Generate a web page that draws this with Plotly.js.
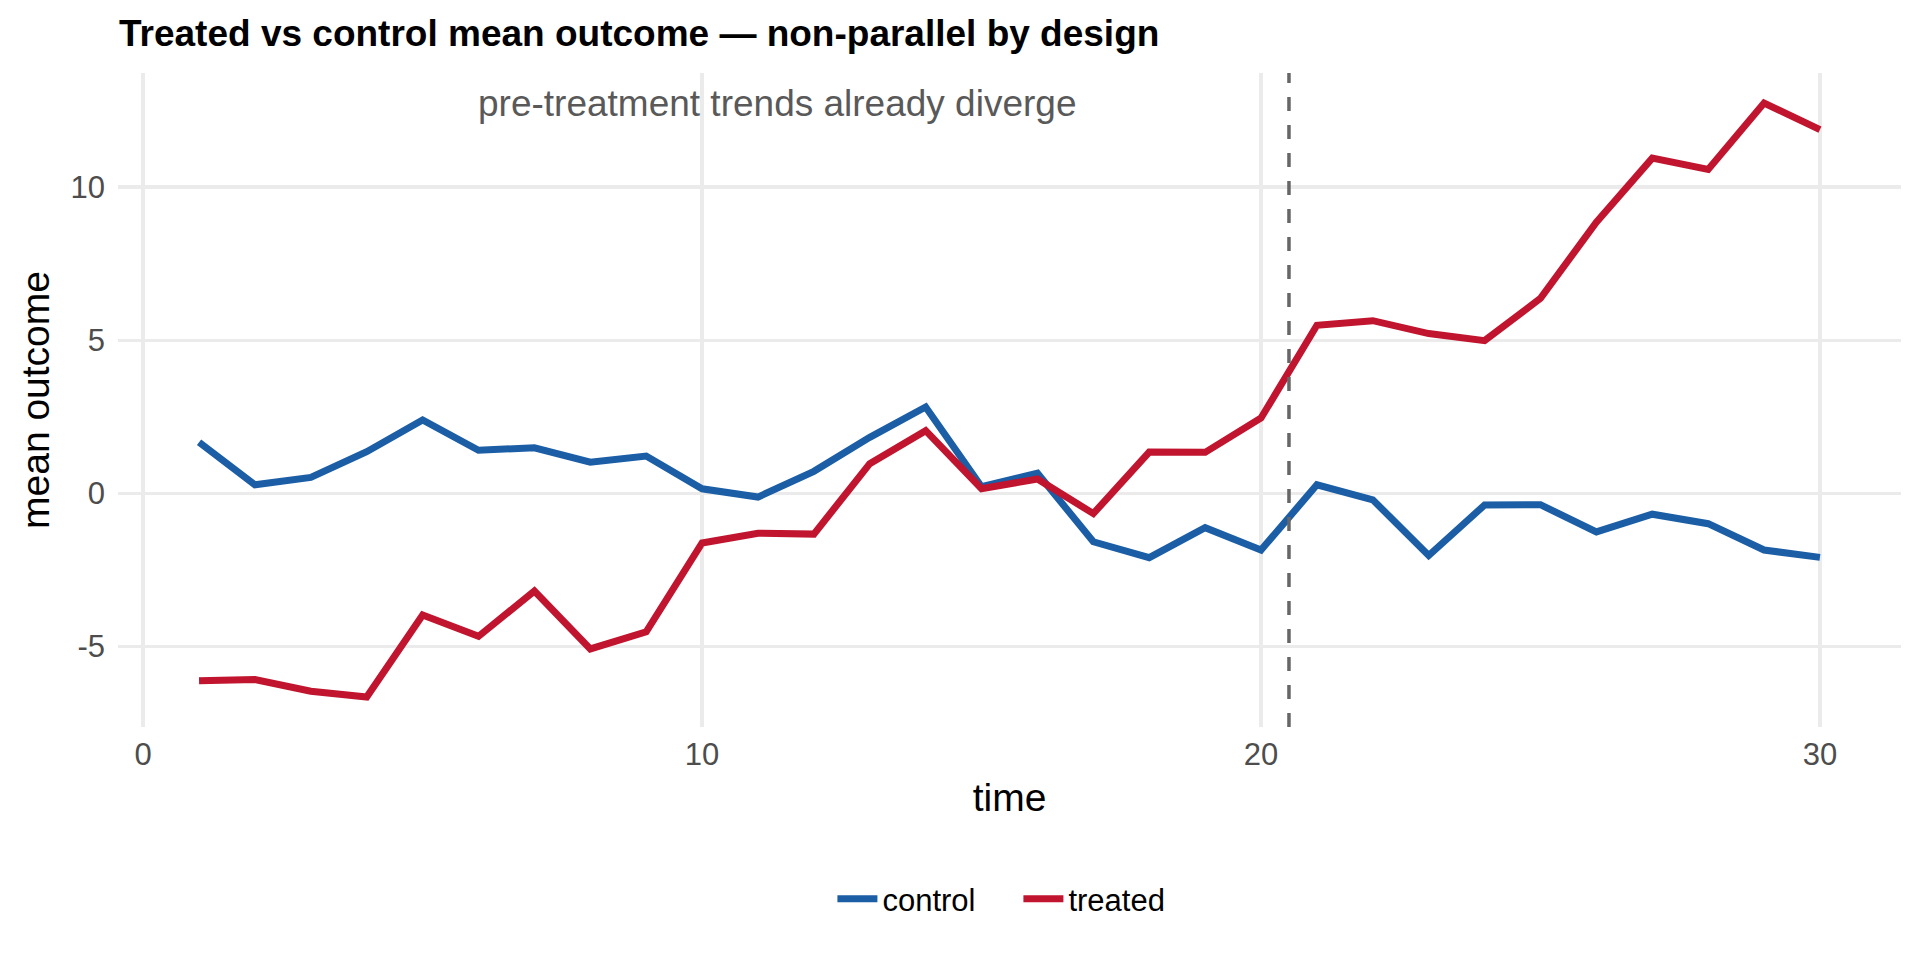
<!DOCTYPE html>
<html>
<head>
<meta charset="utf-8">
<script src="https://cdn.plot.ly/plotly-3.0.1.min.js"></script>
<style>
  html, body { margin: 0; padding: 0; background: #ffffff; }
  #chart { width: 1920px; height: 960px; }
</style>
</head>
<body>
<div id="chart"></div>
<script>
// ---- data ----
const time = [1, 2, 3, 4, 5, 6, 7, 8, 9, 10, 11, 12, 13, 14, 15,
              16, 17, 18, 19, 20, 21, 22, 23, 24, 25, 26, 27, 28, 29, 30];
const control = [1.67, 0.28, 0.52, 1.36, 2.40, 1.41, 1.49, 1.02, 1.22, 0.15,
                 -0.12, 0.72, 1.83, 2.82, 0.22, 0.66, -1.58, -2.10, -1.12, -1.85,
                 0.28, -0.21, -2.03, -0.38, -0.37, -1.26, -0.68, -0.99, -1.85, -2.09];
const treated = [-6.12, -6.08, -6.46, -6.65, -3.97, -4.67, -3.19, -5.08, -4.52, -1.62,
                 -1.30, -1.33, 0.97, 2.05, 0.15, 0.47, -0.66, 1.35, 1.34, 2.46,
                 5.49, 5.64, 5.22, 4.99, 6.37, 8.86, 10.95, 10.58, 12.75, 11.88];
const seriesNames = ["control", "treated"];
const xTicks = [0, 10, 20, 30];
const xTickText = ["0", "10", "20", "30"];
const yTicks = [-5, 0, 5, 10];
const yTickText = ["-5", "0", "5", "10"];
const treatmentStart = 20.5;
const titleText = "Treated vs control mean outcome \u2014 non-parallel by design";
const noteText = "pre-treatment trends already diverge";

const FONT = "Liberation Sans, Arial, Helvetica, sans-serif";
const colors = { control: "#1B5EA6", treated: "#C1142E" };

const traces = [
  { x: time, y: control, name: seriesNames[0], type: "scatter", mode: "lines",
    line: { color: colors.control, width: 7 } },
  { x: time, y: treated, name: seriesNames[1], type: "scatter", mode: "lines",
    line: { color: colors.treated, width: 7 } }
];

const layout = {
  width: 1920, height: 960,
  paper_bgcolor: "#ffffff", plot_bgcolor: "#ffffff",
  margin: { l: 118, r: 19, t: 73, b: 233, pad: 0 },
  font: { family: FONT, color: "#000000" },
  title: {
    text: "<b>" + titleText + "</b>",
    font: { family: FONT, size: 37, color: "#000000" },
    xref: "container", yref: "container",
    x: 119 / 1920, xanchor: "left",
    y: 1 - 33 / 960, yanchor: "middle"
  },
  xaxis: {
    range: [-0.45, 31.45],
    tickmode: "array", tickvals: xTicks, ticktext: xTickText,
    ticks: "", ticklabelstandoff: 6,
    tickfont: { family: FONT, size: 31, color: "#4D4D4D" },
    showgrid: true, gridcolor: "#EBEBEB", gridwidth: 3.5,
    zeroline: false, showline: false,
    title: { text: "time", font: { family: FONT, size: 39, color: "#000000" }, standoff: 12 }
  },
  yaxis: {
    range: [-7.63, 13.73],
    tickmode: "array", tickvals: yTicks, ticktext: yTickText,
    ticks: "", ticklabelstandoff: 12,
    tickfont: { family: FONT, size: 31, color: "#4D4D4D" },
    showgrid: true, gridcolor: "#EBEBEB", gridwidth: 3.5,
    zeroline: false, showline: false,
    title: { text: "mean outcome", font: { family: FONT, size: 39, color: "#000000" }, standoff: 8 }
  },
  showlegend: true,
  legend: {
    orientation: "h", x: 0.505, xanchor: "center",
    y: -(899 - 727) / 654, yanchor: "middle",
    font: { family: FONT, size: 31, color: "#000000" },
    bgcolor: "rgba(0,0,0,0)", itemwidth: 40,
    entrywidth: 131, entrywidthmode: "pixels"
  },
  shapes: [
    { type: "line", xref: "x", yref: "paper", x0: treatmentStart, x1: treatmentStart, y0: 0, y1: 1,
      line: { color: "#666666", width: 3.5, dash: "14px,14px" } }
  ],
  annotations: [
    { text: noteText, xref: "x", yref: "y", x: 11.34, y: 12.75,
      xanchor: "center", yanchor: "middle", showarrow: false,
      font: { family: FONT, size: 37, color: "#595959" } }
  ]
};

Plotly.newPlot("chart", traces, layout, { displayModeBar: false, staticPlot: true });
</script>
</body>
</html>
